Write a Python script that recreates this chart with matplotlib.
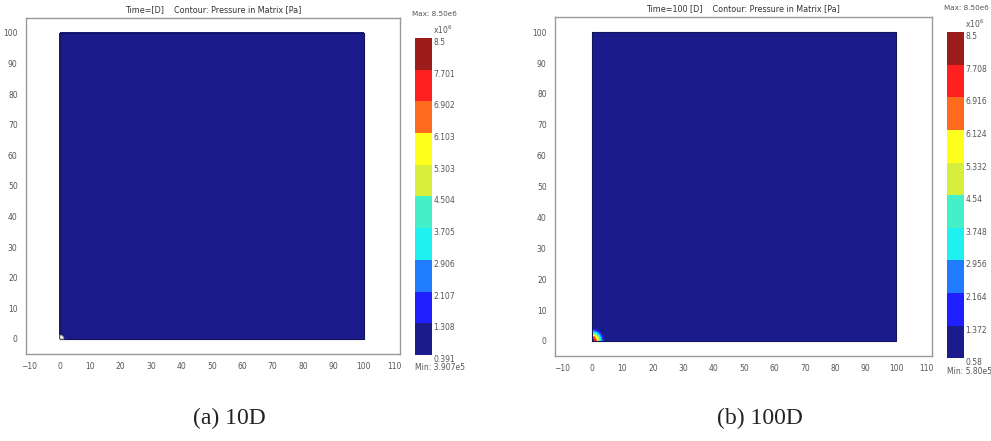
import numpy as np
import matplotlib
matplotlib.use('Agg')
import matplotlib.pyplot as plt
from matplotlib.colors import ListedColormap, BoundaryNorm
from matplotlib.patches import Wedge

# colour bands (bottom -> top), 10 levels like the solver output
band_colors = ['#1b1b8c', '#1f1fff', '#1f7cff', '#1ff0f0', '#44f0c8',
               '#d8ee3c', '#ffff1c', '#ff6a1f', '#ff1f1f', '#9c1b1b']

# panel (a) 10D
levels_a = [0.391, 1.308, 2.107, 2.906, 3.705, 4.504, 5.303, 6.103, 6.902, 7.701, 8.5]
labels_a = ['0.391', '1.308', '2.107', '2.906', '3.705', '4.504', '5.303', '6.103', '6.902', '7.701', '8.5']
r_pts_a = [0.0, 1.0, 2.0]            # radial pressure profile from well (m)
p_pts_a = [0.9, 0.45, 0.391]          # x1e6 Pa
title_a = 'Time=[D]    Contour: Pressure in Matrix [Pa]'
max_a = 'Max: 8.50e6'
min_a = 'Min: 3.907e5'

# panel (b) 100D
levels_b = [0.58, 1.372, 2.164, 2.956, 3.748, 4.54, 5.332, 6.124, 6.916, 7.708, 8.5]
labels_b = ['0.58', '1.372', '2.164', '2.956', '3.748', '4.54', '5.332', '6.124', '6.916', '7.708', '8.5']
r_pts_b = [0.0, 0.9, 1.5, 2.1, 2.7, 3.3, 3.9, 4.5]
p_pts_b = [8.5, 7.3, 6.0, 4.8, 3.4, 2.2, 1.2, 0.58]
title_b = 'Time=100 [D]    Contour: Pressure in Matrix [Pa]'
max_b = 'Max: 8.50e6'
min_b = 'Min: 5.80e5'

well_xy = (0.0, 0.0)
well_r = 1.3
xticks = [-10, 0, 10, 20, 30, 40, 50, 60, 70, 80, 90, 100, 110]
yticks = [0, 10, 20, 30, 40, 50, 60, 70, 80, 90, 100]
captions = ['(a) 10D', '(b) 100D']

fig = plt.figure(figsize=(9.91, 4.41), dpi=100)
gx = np.linspace(0, 100, 1001)
X, Y = np.meshgrid(gx, gx)
R = np.hypot(X - well_xy[0], Y - well_xy[1])

tick_col = '#555555'
spine_col = '#999999'

panels = [
    dict(ax=[0.0262, 0.1973, 0.3774, 0.7619], cax=[0.4188, 0.195, 0.0172, 0.719],
         xlim=(-11.2, 112), levels=levels_a, labels=labels_a, r=r_pts_a, p=p_pts_a,
         title=title_a, mx=max_a, mn=min_a, hole=True),
    dict(ax=[0.560, 0.1927, 0.3804, 0.7687], cax=[0.9556, 0.188, 0.0172, 0.739],
         xlim=(-12.2, 111.8), levels=levels_b, labels=labels_b, r=r_pts_b, p=p_pts_b,
         title=title_b, mx=max_b, mn=min_b, hole=False),
]

for i, pn in enumerate(panels):
    ax = fig.add_axes(pn['ax'])
    cmap = ListedColormap(band_colors)
    norm = BoundaryNorm(pn['levels'], cmap.N)
    P = np.interp(R, pn['r'], pn['p'])
    ax.contourf(X, Y, P, levels=pn['levels'], cmap=cmap, norm=norm)
    ax.plot([0, 100, 100, 0, 0], [0, 0, 100, 100, 0], color='#14145a', lw=0.8)
    if pn['hole']:
        ax.add_patch(Wedge(well_xy, well_r, 0, 90, facecolor='white',
                           edgecolor='#888888', lw=0.6, zorder=3))
    ax.set_xlim(pn['xlim'])
    ax.set_ylim(-4.9, 104.9)
    ax.set_xticks(xticks)
    ax.set_yticks(yticks)
    ax.tick_params(length=0, labelsize=5.5, labelcolor=tick_col, pad=6)
    for s in ax.spines.values():
        s.set_color(spine_col)
        s.set_linewidth(1.0)
    ax.set_title(pn['title'], fontsize=5.8, color='#333333', pad=4)

    cax = fig.add_axes(pn['cax'])
    cb = fig.colorbar(plt.cm.ScalarMappable(norm=norm, cmap=cmap), cax=cax,
                      ticks=pn['levels'], drawedges=False)
    cb.outline.set_visible(False)
    cax.set_yticklabels(pn['labels'])
    cax.tick_params(length=0, labelsize=5.5, labelcolor=tick_col, pad=1)
    for lbl in cax.get_yticklabels():
        lbl.set_va('top')
    cax.text(-0.15, 1.075, pn['mx'], transform=cax.transAxes, fontsize=5.2,
             color=tick_col, ha='left', va='center')
    cax.text(1.05, 1.025, r'x10$^6$', transform=cax.transAxes, fontsize=5.5,
             color=tick_col, ha='left', va='center')
    cax.text(0.0, -0.04, pn['mn'], transform=cax.transAxes, fontsize=5.5,
             color=tick_col, ha='left', va='center')

    x0, w = pn['ax'][0], pn['ax'][2]
    fig.text(x0 + w / 2 + 0.017, 0.052, captions[i], family='Liberation Serif',
             fontsize=17, ha='center', va='center', color='#222222')

fig.savefig('out.png', dpi=100)
